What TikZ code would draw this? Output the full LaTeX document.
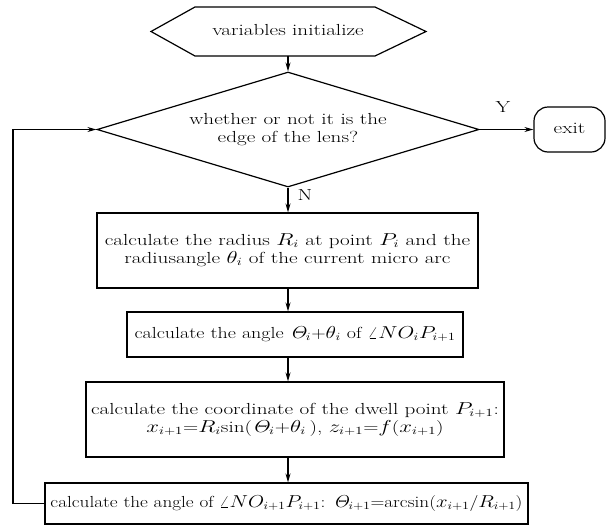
\documentclass[tikz,border=0pt]{standalone}
\usepackage{graphicx}
\usetikzlibrary{shapes.geometric,arrows.meta}
\newcommand{\wtxt}[2][1.32]{\scalebox{#1}[1]{\begin{tabular}{@{}c@{}}#2\end{tabular}}}
\begin{document}
\begin{tikzpicture}[x=1pt,y=1pt,
  every node/.style={font=\fontsize{16}{18}\selectfont},
  line/.style={line width=1.2pt},
  arr/.style={line width=1.2pt,-{Stealth[length=9pt,width=5pt,inset=3pt]}},
  procbox/.style={draw,line width=1.2pt,rectangle,inner sep=0pt,align=center},
  lbl/.style={inner sep=0pt}]
\renewcommand{\arraystretch}{1}
\useasboundingbox (0,0) rectangle (607,-525);
% init hexagon
\node[minimum width=276pt,minimum height=49pt,inner sep=0pt] (init) at (288,-31.5) {\wtxt{variables initialize}};
\draw[line] (151,-31.5) -- (195,-7) -- (375,-7) -- (426,-31.5) -- (375,-56) -- (195,-56) -- cycle;
% decision
\node[diamond,aspect=3.32,draw,line width=1.2pt,inner sep=0pt,minimum width=382pt,minimum height=115pt] (dec) at (288,-129.5) {\wtxt{whether or not it is the\\edge of the lens?}};
% exit
\node[draw,line width=1.2pt,rounded corners=14pt,minimum width=71pt,minimum height=45pt,inner sep=0pt] (exit) at (569.5,-129.5) {\wtxt{exit}};
% boxes
\node[procbox,minimum width=381pt,minimum height=75pt] (b1) at (287.5,-250.5) {\wtxt{calculate the radius $R_i$ at point $P_i$ and the\\radiusangle $\theta_i$ of the current micro arc}};
\node[procbox,minimum width=336pt,minimum height=45pt] (b2) at (295,-334.5) {\wtxt[1.25]{calculate the angle $\mathit{\Theta}_i$+$\theta_i$ of $\angle NO_iP_{i+1}$}};
\node[procbox,minimum width=418pt,minimum height=75pt] (b3) at (295,-419.5) {\wtxt{calculate the coordinate of the dwell point $P_{i+1}$:\\$x_{i+1}$=$R_i$sin($\mathit{\Theta}_i$+$\theta_i$\,), $z_{i+1}$=$f$($x_{i+1}$)}};
\node[procbox,minimum width=483pt,minimum height=41pt] (b4) at (286.5,-503.5) {\wtxt[1.2]{calculate the angle of $\angle NO_{i+1}P_{i+1}$: $\mathit{\Theta}_{i+1}$=arcsin($x_{i+1}$/$R_{i+1}$)}};
% connectors
\draw[arr] (init.south) -- (dec.north);
\draw[arr] (dec.south) -- (dec.south |- b1.north);
\draw[arr] (dec.south |- b1.south) -- (dec.south |- b2.north);
\draw[arr] (dec.south |- b2.south) -- (dec.south |- b3.north);
\draw[arr] (dec.south |- b3.south) -- (dec.south |- b4.north);
\draw[arr] (dec.east) -- (exit.west);
\coordinate (lb) at (13,-503.5);
\coordinate (lt) at (13,-129.5);
\draw[arr] (b4.west) -- (lb) -- (lt) -- (dec.west);
% labels
\node[lbl] (ylab) at (503,-109) {\wtxt{Y}};
\node[lbl] (nlab) at (305,-197) {\wtxt{N}};
\end{tikzpicture}
\end{document}
